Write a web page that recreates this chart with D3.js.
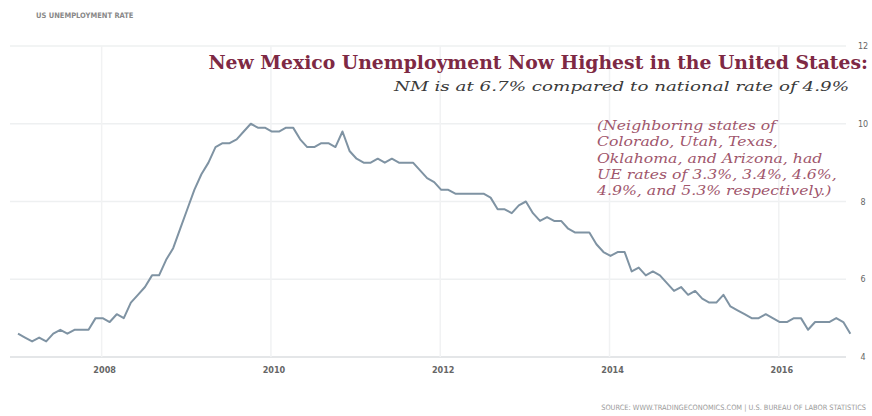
<!DOCTYPE html>
<html>
<head>
<meta charset="utf-8">
<script src="https://cdn.jsdelivr.net/npm/d3@7"></script>
<style>
	body { margin: 0; background: #fff; }
	svg { display: block; }
</style>
</head>
<body>
<svg id="chart" width="872" height="416"></svg>
<script>
// US unemployment rate, monthly, Jan 2007 .. Nov 2016
const startYear = 2007;
const rates = [
	4.6, 4.5, 4.4, 4.5, 4.4, 4.6, 4.7, 4.6, 4.7, 4.7, 4.7, 5.0,
	5.0, 4.9, 5.1, 5.0, 5.4, 5.6, 5.8, 6.1, 6.1, 6.5, 6.8, 7.3,
	7.8, 8.3, 8.7, 9.0, 9.4, 9.5, 9.5, 9.6, 9.8, 10.0, 9.9, 9.9,
	9.8, 9.8, 9.9, 9.9, 9.6, 9.4, 9.4, 9.5, 9.5, 9.4, 9.8, 9.3,
	9.1, 9.0, 9.0, 9.1, 9.0, 9.1, 9.0, 9.0, 9.0, 8.8, 8.6, 8.5,
	8.3, 8.3, 8.2, 8.2, 8.2, 8.2, 8.2, 8.1, 7.8, 7.8, 7.7, 7.9,
	8.0, 7.7, 7.5, 7.6, 7.5, 7.5, 7.3, 7.2, 7.2, 7.2, 6.9, 6.7,
	6.6, 6.7, 6.7, 6.2, 6.3, 6.1, 6.2, 6.1, 5.9, 5.7, 5.8, 5.6,
	5.7, 5.5, 5.4, 5.4, 5.6, 5.3, 5.2, 5.1, 5.0, 5.0, 5.1, 5.0,
	4.9, 4.9, 5.0, 5.0, 4.7, 4.9, 4.9, 4.9, 5.0, 4.9, 4.6
];
const yTicks = [4, 6, 8, 10, 12];
const xTicks = [2008, 2010, 2012, 2014, 2016];

const title = 'New Mexico Unemployment Now Highest in the United States:';
const subtitle = 'NM is at 6.7% compared to national rate of 4.9%';
const note = [
	'(Neighboring states of',
	'Colorado, Utah, Texas,',
	'Oklahoma, and Arizona, had',
	'UE rates of 3.3%, 3.4%, 4.6%,',
	'4.9%, and 5.3% respectively.)'
];
const chartLabel = 'US UNEMPLOYMENT RATE';
const source = 'SOURCE: WWW.TRADINGECONOMICS.COM | U.S. BUREAU OF LABOR STATISTICS';

const data = rates.map((v, i) => ({ t: startYear + i / 12, v }));

const $svg = d3.select('#chart');
const x = d3.scaleLinear().domain([2007, 2016.9]).range([18, 856]);
const y = d3.scaleLinear().domain([4, 12]).range([357, 46]);
const left = 10;
const right = 846;

// grid
$svg.append('g')
	.selectAll('line')
	.data(yTicks)
	.join('line')
	.attr('x1', left)
	.attr('x2', right)
	.attr('y1', d => y(d))
	.attr('y2', d => y(d))
	.attr('stroke', d => (d === 4 ? '#e4e6e8' : '#eef0f1'))
	.attr('stroke-width', d => (d === 4 ? 2 : 1.5));

$svg.append('g')
	.selectAll('line')
	.data(xTicks)
	.join('line')
	.attr('x1', d => x(d) - 1)
	.attr('x2', d => x(d) - 1)
	.attr('y1', y(12))
	.attr('y2', y(4))
	.attr('stroke', '#f1f2f3')
	.attr('stroke-width', 1.5);

// axis labels
$svg.append('g')
	.selectAll('text')
	.data(yTicks)
	.join('text')
	.attr('x', 863)
	.attr('y', d => y(d) + 3)
	.attr('text-anchor', 'middle')
	.attr('font-family', 'DejaVu Sans, sans-serif')
	.attr('font-size', 8)
	.attr('fill', '#666')
	.text(d => d);

$svg.append('g')
	.selectAll('text')
	.data(xTicks)
	.join('text')
	.attr('x', d => x(d) + 2)
	.attr('y', 373)
	.attr('text-anchor', 'middle')
	.attr('font-family', 'DejaVu Sans Condensed, sans-serif')
	.attr('font-size', 9)
	.attr('font-weight', 'bold')
	.attr('fill', '#666')
	.text(d => d);

// series
const line = d3.line().x(d => x(d.t)).y(d => y(d.v));
$svg.append('path')
	.datum(data)
	.attr('d', line)
	.attr('fill', 'none')
	.attr('stroke', '#7f93a3')
	.attr('stroke-width', 2)
	.attr('stroke-linejoin', 'round');

// fit a text to a target width by shrinking/growing its font size
function fit(sel, width) {
	const w = sel.node().getComputedTextLength();
	const fs = +sel.attr('font-size');
	sel.attr('font-size', fs * width / w);
}

const t1 = $svg.append('text')
	.attr('x', 868)
	.attr('y', 69)
	.attr('text-anchor', 'end')
	.attr('font-family', 'DejaVu Serif, serif')
	.attr('font-weight', 'bold')
	.attr('font-size', 16)
	.attr('fill', '#7e2944')
	.text(title);
fit(t1, 660);

$svg.append('text')
	.attr('x', 849)
	.attr('y', 91)
	.attr('text-anchor', 'end')
	.attr('font-family', 'DejaVu Serif, serif')
	.attr('font-style', 'italic')
	.attr('font-size', 13.5)
	.attr('fill', '#3a3a3a')
	.attr('textLength', 455)
	.attr('lengthAdjust', 'spacingAndGlyphs')
	.text(subtitle);

// note: squeeze horizontally so the widest line is ~240px
const noteX = 597;
const $note = $svg.append('g');
note.forEach((s, i) => {
	$note.append('text')
		.attr('x', 0)
		.attr('y', 130 + i * 16.3)
		.attr('font-family', 'DejaVu Serif, serif')
		.attr('font-style', 'italic')
		.attr('font-size', 12.5)
		.attr('fill', '#a0566c')
		.text(s);
});
const noteW = d3.max($note.selectAll('text').nodes(), n => n.getComputedTextLength());
$note.attr('transform', `translate(${noteX},0) scale(${240 / noteW},1)`);

$svg.append('text')
	.attr('x', 36)
	.attr('y', 18)
	.attr('font-family', 'DejaVu Sans Condensed, sans-serif')
	.attr('font-size', 7.5)
	.attr('font-weight', 'bold')
	.attr('fill', '#888')
	.text(chartLabel);

const src = $svg.append('text')
	.attr('x', 866)
	.attr('y', 410)
	.attr('text-anchor', 'end')
	.attr('font-family', 'DejaVu Sans Condensed, sans-serif')
	.attr('font-size', 6.5)
	.attr('fill', '#999')
	.text(source);
fit(src, 265);
</script>
</body>
</html>
